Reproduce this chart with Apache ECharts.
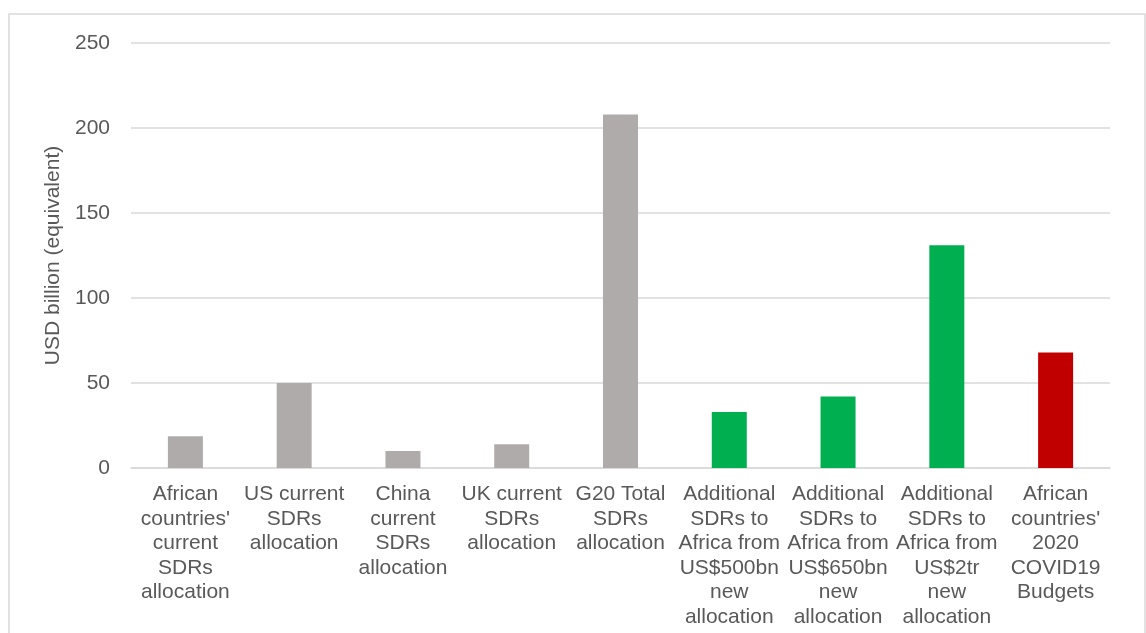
<!DOCTYPE html>
<html>
<head>
<meta charset="utf-8">
<style>
  html, body { margin: 0; padding: 0; background: #ffffff; }
  #chart { width: 1146px; height: 633px; }
</style>
<script src="https://cdn.jsdelivr.net/npm/echarts@6/dist/echarts.min.js"></script>
</head>
<body>
<div id="chart"></div>
<script>
// SDR allocations compared with African COVID-19 budgets (USD billion)
const categories = [
  "African\ncountries'\ncurrent\nSDRs\nallocation",
  "US current\nSDRs\nallocation",
  "China\ncurrent\nSDRs\nallocation",
  "UK current\nSDRs\nallocation",
  "G20 Total\nSDRs\nallocation",
  "Additional\nSDRs to\nAfrica from\nUS$500bn\nnew\nallocation",
  "Additional\nSDRs to\nAfrica from\nUS$650bn\nnew\nallocation",
  "Additional\nSDRs to\nAfrica from\nUS$2tr\nnew\nallocation",
  "African\ncountries'\n2020\nCOVID19\nBudgets"
];
const values = [18.7, 50, 10, 14, 208, 33, 42, 131, 68];
// bar group: current allocations, new allocations, budgets
const groups = ['current', 'current', 'current', 'current', 'current', 'new', 'new', 'new', 'budget'];
const groupColors = { current: '#AFABAB', new: '#00B050', budget: '#C00000' };
const yTicks = { min: 0, max: 250, interval: 50 };
const yAxisTitle = 'USD billion (equivalent)';

const chart = echarts.init(document.getElementById('chart'), null, { renderer: 'canvas' });
const font = 'Arial, "Liberation Sans", sans-serif';
const textColor = '#595959';

chart.setOption({
  animation: false,
  backgroundColor: '#ffffff',
  graphic: [{
    type: 'rect',
    shape: { x: 9, y: 14, width: 1136, height: 640 },
    style: { fill: 'none', stroke: '#D9D9D9', lineWidth: 1.5 },
    silent: true
  }],
  grid: { left: 131, right: 36, top: 43, bottom: 165, containLabel: false },
  xAxis: {
    type: 'category',
    data: categories,
    axisLine: { show: true, lineStyle: { color: '#D9D9D9', width: 1.5 } },
    axisTick: { show: false },
    axisLabel: {
      interval: 0,
      color: textColor,
      fontFamily: font,
      fontSize: 21,
      lineHeight: 24.5,
      margin: 14,
      align: 'center'
    }
  },
  yAxis: {
    type: 'value',
    min: yTicks.min,
    max: yTicks.max,
    interval: yTicks.interval,
    name: yAxisTitle,
    nameLocation: 'middle',
    nameGap: 60,
    nameTextStyle: { color: textColor, fontFamily: font, fontSize: 21 },
    axisLine: { show: false },
    axisTick: { show: false },
    axisLabel: { color: textColor, fontFamily: font, fontSize: 21, margin: 21 },
    splitLine: { lineStyle: { color: '#D9D9D9', width: 1.5 } }
  },
  series: [{
    type: 'bar',
    barWidth: 35,
    data: values.map((v, i) => ({ value: v, itemStyle: { color: groupColors[groups[i]] } })),
    label: { show: false }
  }]
});
</script>
</body>
</html>
